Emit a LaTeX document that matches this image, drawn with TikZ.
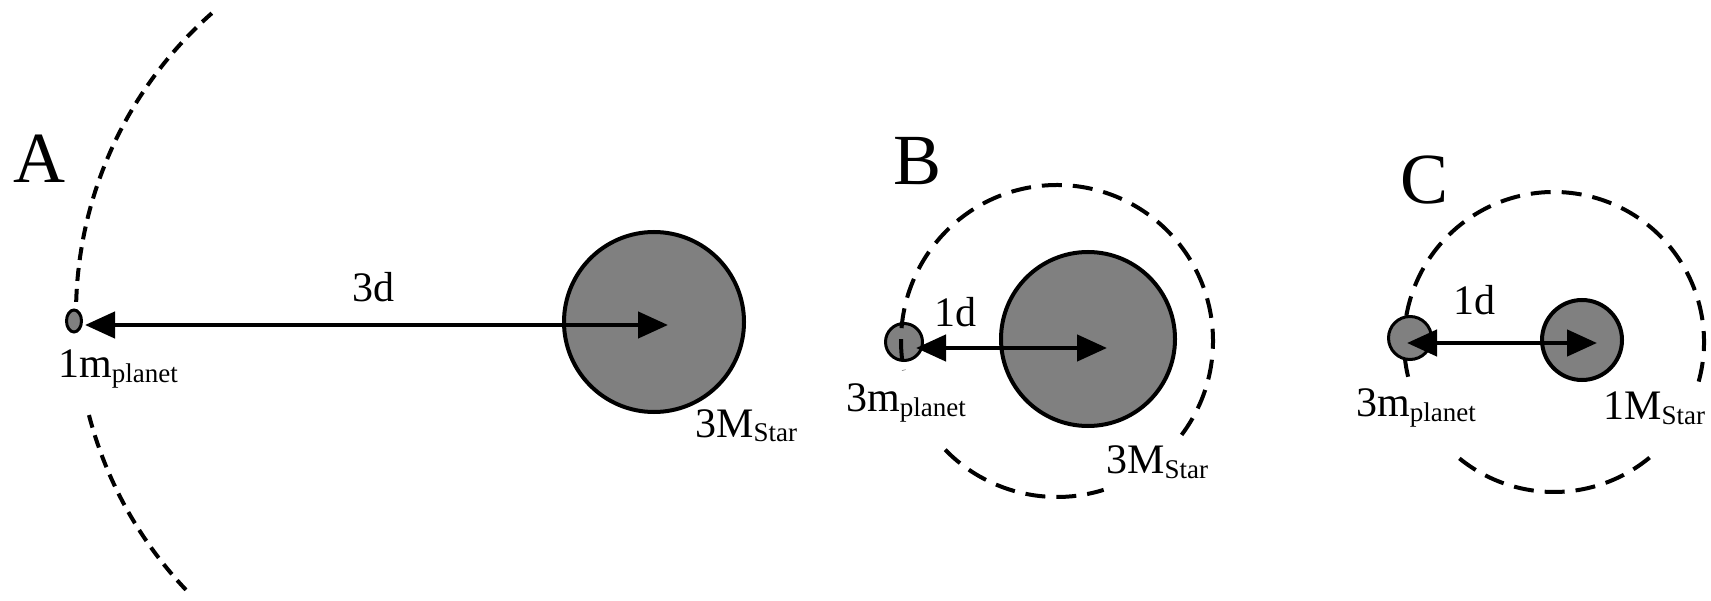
\documentclass[tikz,border=0pt]{standalone}
\usepackage{fontspec}
\setmainfont{Liberation Serif}
\usetikzlibrary{arrows.meta,shapes.geometric}
\definecolor{bodygray}{RGB}{128,128,128}
\newcommand\lowsub[1]{\raisebox{-5pt}{\fontsize{27}{30}\selectfont #1}}
\begin{document}
\begin{tikzpicture}[x=1pt,y=-1pt,
  starbody/.style={circle, draw=black, line width=4pt, fill=bodygray, inner sep=0pt},
  planetbody/.style={circle, draw=black, line width=3pt, fill=bodygray, inner sep=0pt},
  orbitA/.style={draw=black, line width=4pt, dash pattern=on 13pt off 8pt},
  orbit/.style={draw=black, line width=4pt, dash pattern=on 20pt off 11pt},
  dist/.style={line width=4.5pt, {Triangle[length=30pt,width=26pt]}-{Triangle[length=30pt,width=26pt]}},
  lbl/.style={inner sep=0pt, anchor=base west, font=\fontsize{42}{50}\selectfont},
  panel/.style={inner sep=0pt, anchor=base west, font=\fontsize{72}{80}\selectfont}]
\useasboundingbox (0,0) rectangle (1711,601);

% ---------- Panel A ----------
\draw[orbitA] (477,314) ++(-131.4:401) arc[start angle=-131.4, end angle=-181, radius=401];
\draw[orbitA] (477,314) ++(-194.6:401) arc[start angle=-194.6, end angle=-224.1, radius=401];
\node[draw=black, line width=3pt, fill=bodygray, ellipse, inner sep=0pt,
      minimum width=15pt, minimum height=22pt] (pA) at (74,321) {};
\node[starbody, minimum size=180pt] (sA) at (654,322) {};
\coordinate (aL) at (85,325);
\coordinate (aR) at (668,325);
\draw[dist] (aL) -- (aR);
\node[panel] (tA) at (13,183) {A};
\node[lbl] (dA) at (352,302) {3d};
\node[lbl] (mA) at (58,378) {1m\lowsub{planet}};
\node[lbl] (MA) at (695,437) {3M\lowsub{Star}};

% ---------- Panel B ----------
\node[planetbody, minimum size=37pt] (pB) at (904,342) {};
\draw[orbit] (1057,341) ++(37:156) arc[start angle=37, end angle=-190.8, radius=156];
\draw[orbit] (1057,341) ++(135.8:156) arc[start angle=135.8, end angle=72.6, radius=156];
\node[starbody, minimum size=174pt] (sB) at (1088,339) {};
\coordinate (bL) at (916,348);
\coordinate (bR) at (1107,348);
\draw[dist] (bL) -- (bR);
\node[panel] (tB) at (893,185) {B};
\node[lbl] (dB) at (934,327) {1d};
\node[lbl] (mB) at (846,412) {3m\lowsub{planet}};
\node[lbl] (MB) at (1106,473) {3M\lowsub{Star}};

% ---------- Panel C ----------
\draw[orbit] (1554,342) ++(15.3:150) arc[start angle=15.3, end angle=-193.4, radius=150];
\draw[orbit] (1554,342) ++(129.1:150) arc[start angle=129.1, end angle=49.7, radius=150];
\node[planetbody, minimum size=43pt] (pC) at (1410,338) {};
\node[starbody, minimum size=80pt] (sC) at (1582,340) {};
\coordinate (cL) at (1407,343);
\coordinate (cR) at (1597,343);
\draw[dist] (cL) -- (cR);
\node[panel] (tC) at (1400,204) {C};
\node[lbl] (dC) at (1453,315) {1d};
\node[lbl] (mC) at (1356,417) {3m\lowsub{planet}};
\node[lbl] (MC) at (1603,420) {1M\lowsub{Star}};
\end{tikzpicture}
\end{document}
